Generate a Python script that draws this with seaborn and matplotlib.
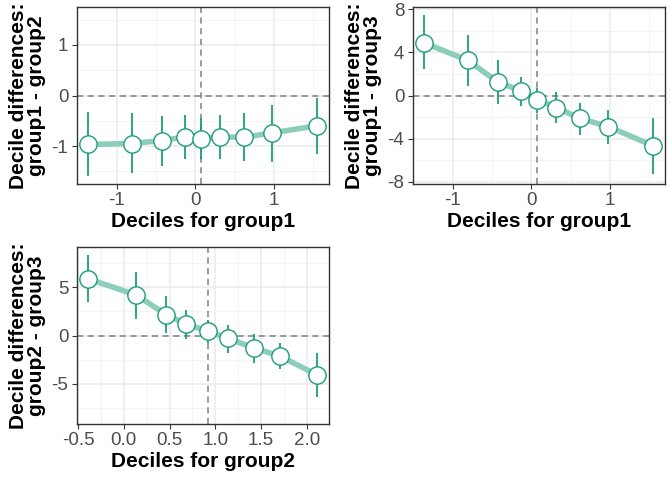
import numpy as np
import pandas as pd
import matplotlib
matplotlib.use("Agg")
import matplotlib.pyplot as plt
import seaborn as sns
from matplotlib.ticker import MultipleLocator

# deciles of each group (x positions)
g1_deciles = [-1.363, -0.812, -0.431, -0.127, 0.076, 0.317, 0.617, 0.977, 1.548]
g2_deciles = [-0.389, 0.131, 0.465, 0.676, 0.920, 1.138, 1.418, 1.702, 2.113]

# group1 - group2
d12 = [-0.967, -0.948, -0.889, -0.817, -0.850, -0.817, -0.824, -0.739, -0.595]
d12_lo = [-1.588, -1.536, -1.39, -1.25, -1.26, -1.26, -1.29, -1.31, -1.15]
d12_hi = [-0.327, -0.346, -0.41, -0.38, -0.45, -0.38, -0.35, -0.18, -0.05]

# group1 - group3
d13 = [4.89, 3.28, 1.28, 0.40, -0.40, -1.12, -2.13, -2.89, -4.68]
d13_lo = [2.49, 0.85, -0.82, -0.97, -1.64, -2.55, -3.65, -4.47, -7.29]
d13_hi = [7.48, 5.65, 3.34, 1.70, 0.70, 0.30, -0.67, -1.34, -2.13]

# group2 - group3
d23 = [5.90, 4.24, 2.17, 1.21, 0.45, -0.31, -1.28, -2.14, -4.10]
d23_lo = [3.45, 1.76, 0.21, -0.34, -0.76, -1.79, -2.83, -3.52, -6.45]
d23_hi = [8.38, 6.66, 4.07, 2.69, 1.66, 1.14, 0.17, -0.83, -1.79]

sns.set_theme(style="ticks")
plt.rcParams['font.family'] = ['Liberation Sans', 'DejaVu Sans']
plt.rcParams['axes.unicode_minus'] = False

DARK = "#1b9e77"
LIGHT = "#8dcebb"


def shift_panel(ax, x, d, lo, hi, xlabel, ylabel, xmaj, ymaj):
    df = pd.DataFrame({'x': x, 'd': d, 'lo': lo, 'hi': hi})
    # reference lines
    ax.axhline(0, color="#7f7f7f", ls=(0, (4, 3)), lw=1.1, zorder=1)
    ax.axvline(df['x'].iloc[4], color="#7f7f7f", ls=(0, (4, 3)), lw=1.1, zorder=1)
    sns.lineplot(data=df, x='x', y='d', ax=ax, color=LIGHT, lw=4, zorder=2,
                 sort=False)
    ax.vlines(df['x'], df['lo'], df['hi'], color=DARK, lw=1.3, zorder=3)
    sns.scatterplot(data=df, x='x', y='d', ax=ax, s=155, color="white",
                    edgecolor=DARK, linewidth=1, zorder=4)

    rng = df['x'].max() - df['x'].min()
    ax.set_xlim(df['x'].min() - 0.05 * rng, df['x'].max() + 0.05 * rng)
    ym = max(abs(df['lo']).max(), abs(df['hi']).max()) * 1.1
    ax.set_ylim(-ym, ym)

    ax.xaxis.set_major_locator(MultipleLocator(xmaj))
    ax.xaxis.set_minor_locator(MultipleLocator(xmaj / 2))
    ax.yaxis.set_major_locator(MultipleLocator(ymaj))
    ax.yaxis.set_minor_locator(MultipleLocator(ymaj / 2))
    ax.grid(which='major', color="#ebebeb", lw=1.1, zorder=0)
    ax.grid(which='minor', color="#f2f2f2", lw=0.6, zorder=0)
    ax.set_axisbelow(True)
    for s in ax.spines.values():
        s.set_color("#333333")
        s.set_linewidth(1.0)
    ax.tick_params(which='major', length=3.5, width=0.8, color="#333333",
                   labelsize=13.5, labelcolor="#4d4d4d", pad=2.5)
    ax.tick_params(which='minor', length=0)
    ax.set_xlabel(xlabel, fontsize=15, fontweight='bold', color="black",
                  labelpad=2)
    ax.set_ylabel(ylabel, fontsize=15, fontweight='bold', color="black",
                  labelpad=4, linespacing=0.95)


fig = plt.figure(figsize=(6.72, 4.8), dpi=100)
w, h = 252 / 672, 177 / 480
ax1 = fig.add_axes([76.7 / 672, 1 - 184 / 480, w, h])
ax2 = fig.add_axes([412.7 / 672, 1 - 184 / 480, w, h])
ax3 = fig.add_axes([76.7 / 672, 1 - 424 / 480, w, h])

shift_panel(ax1, g1_deciles, d12, d12_lo, d12_hi, "Deciles for group1",
            "Decile differences:\ngroup1 - group2", 1, 1)
shift_panel(ax2, g1_deciles, d13, d13_lo, d13_hi, "Deciles for group1",
            "Decile differences:\ngroup1 - group3", 1, 4)
shift_panel(ax3, g2_deciles, d23, d23_lo, d23_hi, "Deciles for group2",
            "Decile differences:\ngroup2 - group3", 0.5, 5)
ax3.xaxis.set_major_formatter(matplotlib.ticker.FormatStrFormatter('%.1f'))

fig.savefig("out.png", dpi=100)
